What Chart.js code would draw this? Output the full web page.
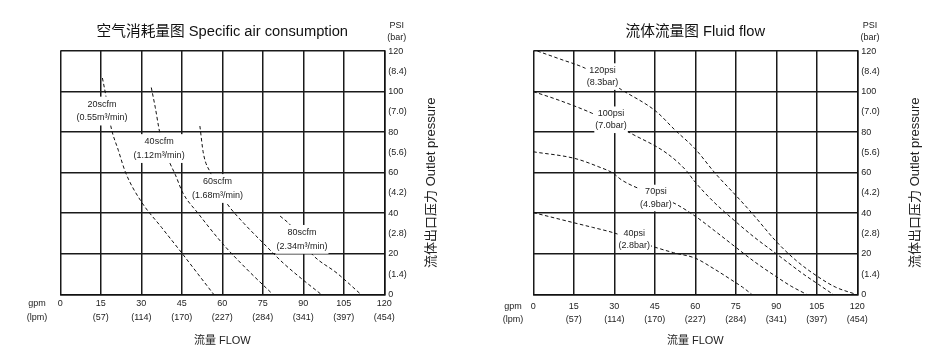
<!DOCTYPE html>
<html>
<head>
<meta charset="utf-8">
<script src="https://cdn.jsdelivr.net/npm/chart.js@4.4.0/dist/chart.umd.min.js"></script>
<style>
  body { margin: 0; background: #fff; }
  #wrap { position: relative; width: 950px; height: 363px; }
  canvas { position: absolute; top: 0; }
</style>
</head>
<body>
<div id="wrap">
  <canvas id="airChart" width="475" height="363" style="left:0"></canvas>
  <canvas id="flowChart" width="475" height="363" style="left:475px"></canvas>
</div>
<script>
// Axis tick labels
const gpmTicks = ['0', '15', '30', '45', '60', '75', '90', '105', '120'];
const lpmTicks = ['', '(57)', '(114)', '(170)', '(227)', '(284)', '(341)', '(397)', '(454)'];
const psiTicks = ['0', '20', '40', '60', '80', '100', '120'];
const barTicks = ['(1.4)', '(2.8)', '(4.2)', '(5.6)', '(7.0)', '(8.4)'];

// Specific air consumption curves (flow gpm vs outlet psi)
const scfm20Gpm = [15.6, 16.8, 18.7, 21.5, 24.2, 30, 37.5, 45.1, 51, 56.8];
const scfm20Psi = [106.7, 98.5, 83, 71, 60, 45.7, 33, 20.2, 10, 0];
const scfm40Gpm = [33.7, 35.2, 36.8, 38.5, 40.5, 42.6, 45.4, 51, 60.1, 69, 78.7];
const scfm40Psi = [102, 92, 80, 72, 65, 59, 50, 40, 25, 12.5, 0];
const scfm60Gpm = [51.7, 53, 55.7, 58.5, 61.6, 68, 75.2, 82.5, 90, 96.6];
const scfm60Psi = [83, 69.5, 59.7, 52, 45, 35, 25.2, 15.5, 7, 0];
const scfm80Gpm = [81.4, 85.2, 89.3, 93.5, 102.5, 111.3];
const scfm80Psi = [38.6, 34.2, 26.8, 19.4, 10.4, 0];
const airNames = ['20scfm', '40scfm', '60scfm', '80scfm'];
const airSubs = ['(0.55m³/min)', '(1.12m³/min)', '(1.68m³/min)', '(2.34m³/min)'];

// Fluid flow curves (flow gpm vs outlet psi)
const psi120Gpm = [1.5, 10, 19.1, 26, 32.7, 45.5, 52.5, 59.9, 67.5, 75.5, 81, 90.3, 97.5, 105.4, 112, 119.5];
const psi120Psi = [120, 116, 111.6, 106.5, 100.9, 90.2, 81, 71.8, 59.5, 48.1, 40, 25.6, 16.5, 8.7, 3.5, 0];
const psi100Gpm = [0, 10, 21.6, 29, 36, 49.5, 57, 59.3, 66.5, 74.3, 82, 89.8, 100, 105.5, 111];
const psi100Psi = [100, 95.5, 89.4, 84.5, 79.5, 69.5, 60.5, 56.4, 46, 36.6, 28, 20.2, 10, 5, 0];
const psi70Gpm = [0, 15.4, 24, 29.6, 32.7, 45, 52.8, 60, 67, 74.7, 82, 90, 95.5, 101.2];
const psi70Psi = [70.3, 67, 63, 59.7, 56.4, 49, 44.5, 38.5, 31.5, 23.5, 16, 8.7, 4, 0];
const psi40Gpm = [0, 14.4, 22, 29.6, 37, 44, 52, 60, 67, 73.5, 77.5, 80.9];
const psi40Psi = [40.3, 35.5, 33, 30.4, 27, 23.7, 20.5, 17.8, 12.5, 7, 3.5, 0];
const flowNames = ['120psi', '100psi', '70psi', '40psi'];
const flowSubs = ['(8.3bar)', '(7.0bar)', '(4.9bar)', '(2.8bar)'];

const FONT = '"Liberation Sans", Arial, "Noto Sans CJK SC", sans-serif';
Chart.defaults.font.family = FONT;
Chart.defaults.color = '#222';

function toPoints(xs, ys) {
    return xs.map((x, i) => ({ x: x, y: ys[i] }));
}

function curve(xs, ys) {
    return {
        data: toPoints(xs, ys),
        showLine: true,
        borderColor: '#111',
        borderWidth: 1,
        borderDash: [3.5, 2.5],
        pointRadius: 0,
        cubicInterpolationMode: 'monotone'
    };
}

// draws the extra texts: curve labels, PSI/(bar), gpm/(lpm), rotated pressure title
const extraText = {
    id: 'extraText',
    afterDatasetsDraw(chart, args, opts) {
        const ctx = chart.ctx;
        const xs = chart.scales.x, ys = chart.scales.y;
        ctx.save();
        ctx.font = '9px ' + FONT;
        ctx.textAlign = 'center';
        ctx.textBaseline = 'middle';
        opts.names.forEach((name, i) => {
            const cx = xs.getPixelForValue(opts.anchors[i][0]);
            const cy = ys.getPixelForValue(opts.anchors[i][1]);
            const w = Math.max(ctx.measureText(name).width, ctx.measureText(opts.subs[i]).width) + 2;
            const h = opts.lineGap * 2 + 2;
            ctx.fillStyle = '#fff';
            ctx.fillRect(cx - w / 2, cy - h / 2, w, h);
            ctx.fillStyle = '#222';
            ctx.fillText(name, cx, cy - opts.lineGap / 2);
            ctx.fillText(opts.subs[i], cx, cy + opts.lineGap / 2);
        });
        ctx.restore();
    },
    afterDraw(chart, args, opts) {
        const ctx = chart.ctx;
        const area = chart.chartArea;
        ctx.save();
        ctx.fillStyle = '#222';
        ctx.textAlign = 'center';
        ctx.textBaseline = 'middle';
        ctx.font = '9px ' + FONT;
        ctx.fillText('PSI', opts.psiX, 26);
        ctx.fillText('(bar)', opts.psiX, 38);
        ctx.fillText('gpm', opts.gpmX, opts.tickY);
        ctx.fillText('(lpm)', opts.gpmX, opts.tickY + 13.5);
        ctx.translate(opts.titleX, (area.top + area.bottom) / 2 + 10);
        ctx.rotate(-Math.PI / 2);
        ctx.font = '13px ' + FONT;
        ctx.fillText('流体出口压力 Outlet pressure', 0, 0);
        ctx.restore();
    }
};

function makeChart(id, title, datasets, lay, labels) {
    const plotRight = lay.left + 324;
    new Chart(document.getElementById(id), {
        type: 'scatter',
        data: { datasets: datasets },
        plugins: [extraText],
        options: {
            responsive: false,
            animation: false,
            layout: { padding: { left: lay.left, right: 0, top: 0, bottom: 0 } },
            plugins: {
                legend: { display: false },
                tooltip: { enabled: false },
                title: {
                    display: true,
                    text: title,
                    fullSize: false,
                    color: '#111',
                    font: { size: 14.7, weight: 'normal' },
                    padding: { top: 23.2, bottom: 10.2 }
                },
                extraText: {
                    names: labels.names,
                    subs: labels.subs,
                    anchors: labels.anchors,
                    lineGap: labels.lineGap,
                    psiX: lay.psiX,
                    gpmX: lay.gpmX,
                    tickY: 294.3 + lay.tickPad + 6.75,
                    titleX: lay.titleX
                }
            },
            scales: {
                x: {
                    type: 'linear',
                    min: 0,
                    max: 120,
                    afterFit: (s) => { s.height = 363 - 294.3; },
                    ticks: {
                        stepSize: 15,
                        padding: lay.tickPad,
                        maxRotation: 0,
                        autoSkip: false,
                        font: { size: 9, lineHeight: 1.5 },
                        color: '#222',
                        callback: (v) => {
                            const i = Math.round(v / 15);
                            return i === 0 ? gpmTicks[0] : [gpmTicks[i], lpmTicks[i]];
                        }
                    },
                    grid: { color: '#1a1a1a', lineWidth: 1.5, drawTicks: false },
                    border: { color: '#111', width: 1.5 },
                    title: {
                        display: true,
                        text: '流量 FLOW',
                        color: '#222',
                        font: { size: 11 },
                        padding: { top: 0, bottom: 15.4 }
                    }
                },
                y: {
                    type: 'linear',
                    position: 'right',
                    min: 0,
                    max: 120,
                    afterFit: (s) => { s.width = 475 - plotRight; },
                    ticks: {
                        stepSize: 10,
                        padding: 4,
                        autoSkip: false,
                        font: { size: 9 },
                        color: '#222',
                        callback: (v) => v % 20 === 0 ? psiTicks[v / 20] : barTicks[(v - 10) / 20]
                    },
                    grid: {
                        drawTicks: false,
                        lineWidth: 1.5,
                        color: (c) => (c.tick && c.tick.value % 20 !== 0) ? 'rgba(0,0,0,0)' : '#1a1a1a'
                    },
                    border: { color: '#111', width: 1.5 }
                }
            }
        }
    });
}

makeChart('airChart', '空气消耗量图 Specific air consumption', [
    curve(scfm20Gpm, scfm20Psi),
    curve(scfm40Gpm, scfm40Psi),
    curve(scfm60Gpm, scfm60Psi),
    curve(scfm80Gpm, scfm80Psi)
], { left: 60.3, psiX: 396.7, gpmX: 37, tickPad: 2.7, titleX: 431 }, {
    names: airNames,
    subs: airSubs,
    anchors: [[15.45, 90.4], [36.6, 71.9], [58.2, 52.2], [89.5, 27.1]],
    lineGap: 13.4
});

makeChart('flowChart', '流体流量图 Fluid flow', [
    curve(psi120Gpm, psi120Psi),
    curve(psi100Gpm, psi100Psi),
    curve(psi70Gpm, psi70Psi),
    curve(psi40Gpm, psi40Psi)
], { left: 58.3, psiX: 395, gpmX: 38, tickPad: 5, titleX: 440 }, {
    names: flowNames,
    subs: flowSubs,
    anchors: [[25.6, 107.4], [28.8, 86.1], [45.4, 47.5], [37.4, 27]],
    lineGap: 12.3
});
</script>
</body>
</html>
